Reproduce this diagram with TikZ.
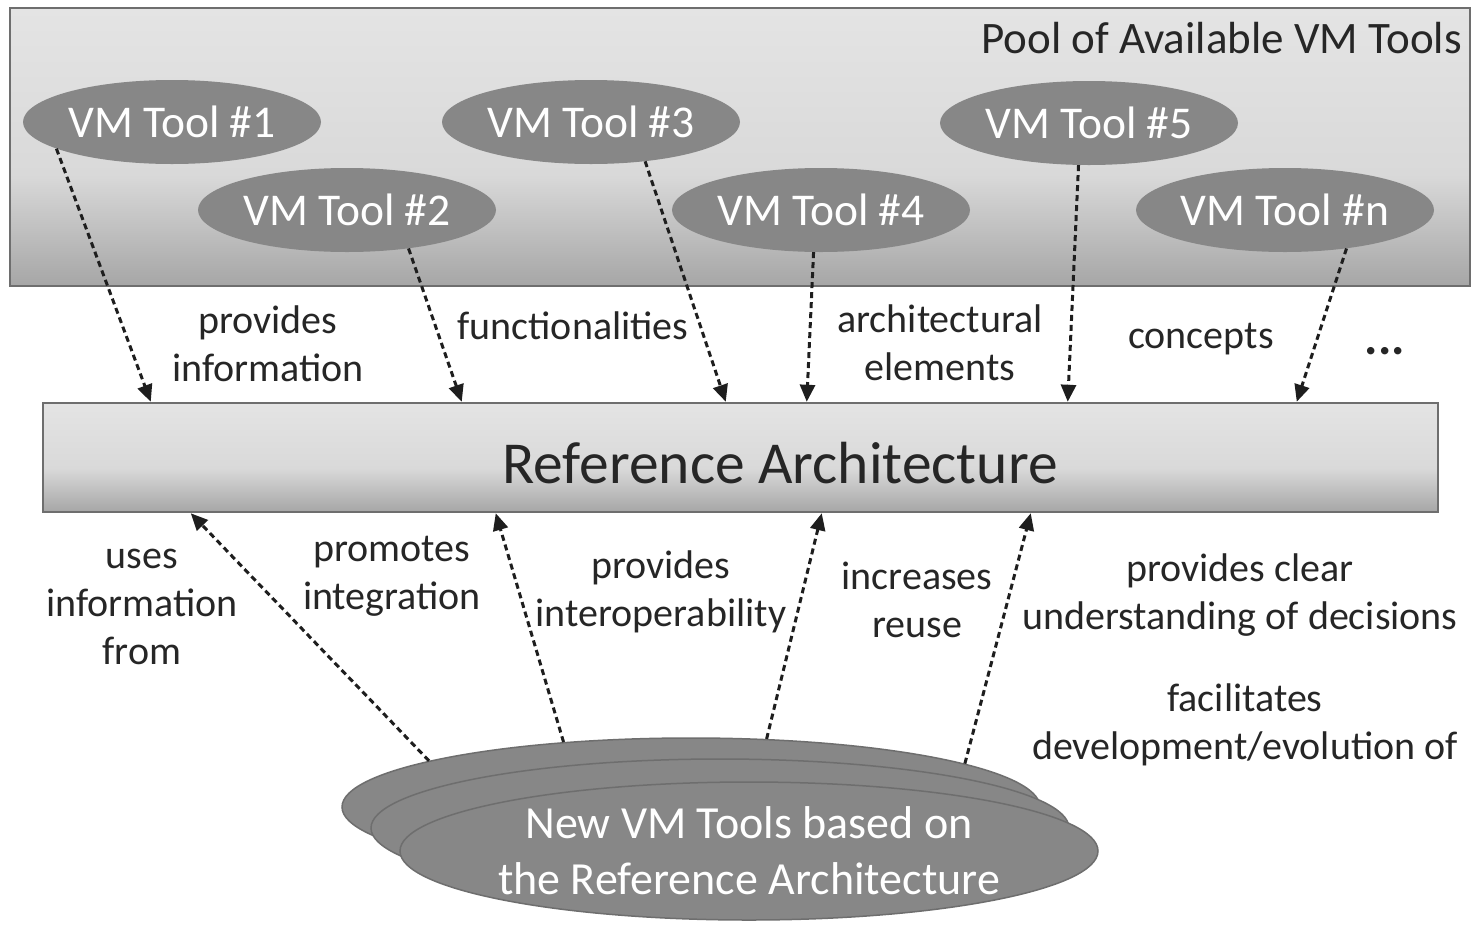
\documentclass[tikz,border=0pt]{standalone}
\usepackage{fontspec}
\setmainfont{Carlito}
\usetikzlibrary{arrows.meta,shapes.geometric,calc}
\definecolor{txtgray}{HTML}{262626}
\definecolor{arrgray}{HTML}{1E1E1E}
\definecolor{toolgray}{HTML}{878787}
\definecolor{edgegray}{HTML}{6E6E6E}
\definecolor{paneltop}{HTML}{E4E4E4}
\definecolor{panelmid}{HTML}{D9D9D9}
\definecolor{panelbot}{HTML}{A6A6A6}
\pgfdeclareverticalshading{panel}{100bp}{color(0bp)=(panelbot); color(25bp)=(panelbot);
  color(45bp)=(panelmid); color(75bp)=(paneltop); color(100bp)=(paneltop)}
\tikzset{
  panelbox/.style={draw=edgegray, line width=2.5pt, shading=panel, inner sep=0pt},
  toolell/.style={ellipse, fill=toolgray, text=white, inner sep=0pt, minimum width=298pt,
                  minimum height=84pt, font=\fontsize{45.5}{53}\selectfont},
  newtool/.style={ellipse, fill=toolgray, draw=edgegray, line width=1.5pt, minimum width=698pt,
                  minimum height=138pt, inner sep=0pt},
  lab/.style={text=txtgray, align=center, font=\fontsize{40}{48}\selectfont, inner sep=0pt},
  arr/.style={-{Triangle[length=17pt,width=15pt]}, dash pattern=on 6pt off 4pt,
              line width=3pt, draw=arrgray},
}

\begin{document}
\begin{tikzpicture}[x=1pt,y=-1pt]
  \useasboundingbox (0,0) rectangle (1472,927);
  % pool of tools
  \node[panelbox, minimum width=1460pt, minimum height=278pt] (pool) at (740,147) {};
  \node[text=txtgray, font=\fontsize{45}{53}\selectfont, anchor=base east, inner sep=0pt] (pooltitle) at (1462,53) {Pool of Available VM Tools};
  \node[toolell] (t1) at (172,122) {VM Tool \#1};
  \node[toolell] (t2) at (347,210) {VM Tool \#2};
  \node[toolell] (t3) at (591,122) {VM Tool \#3};
  \node[toolell] (t4) at (821,210) {VM Tool \#4};
  \node[toolell] (t5) at (1089,123) {VM Tool \#5};
  \node[toolell] (tn) at (1285,210) {VM Tool \#n};
  % reference architecture
  \node[panelbox, minimum width=1395pt, minimum height=109pt] (ra) at (740.5,457.5) {};
  \node[text=txtgray, font=\fontsize{59.5}{66}\selectfont, inner sep=0pt] (ratitle) at (780,463) {Reference Architecture};
  % stack of new tools
  \node[newtool] (nt3) at (691,807) {};
  \node[newtool] (nt2) at (720,828) {};
  \node[newtool] (nt1) at (749,851) {};
  \node[text=white, align=center, inner sep=0pt, font=\fontsize{46}{56}\selectfont] (ntlabel) at (nt1) {New VM Tools based on\\the Reference Architecture};
  % tools -> architecture
  \draw[arr] (t1.193) -- ([xshift=109pt]ra.north west);
  \draw[arr] (t2.328) -- ([xshift=420pt]ra.north west);
  \draw[arr] (t3.324) -- ([xshift=684pt]ra.north west);
  \draw[arr] (t4.260) -- ([xshift=765pt]ra.north west);
  \draw[arr] (t5.256) -- ([xshift=1026pt]ra.north west);
  \draw[arr] (tn.328) -- ([xshift=1255pt]ra.north west);
  \node[lab] (l1) at (268,344) {provides\\information};
  \node[lab] (l2) at (573,326) {functionalities};
  \node[lab] (l3) at (940,343) {architectural\\elements};
  \node[lab] (l4) at (1201,339) {concepts};
  \node[lab, font=\fontsize{50}{50}\selectfont\bfseries, anchor=base] (l5) at (1385,354) {...};
  % new tools -> architecture
  \draw[arr] (nt3.170) -- ([xshift=149pt]ra.south west);
  \draw[arr] (nt3.153) -- ([xshift=454pt]ra.south west);
  \draw[arr] (nt3.42) -- ([xshift=780pt]ra.south west);
  \draw[arr] (nt3.9) -- ([xshift=989pt]ra.south west);
  \node[lab] (b1) at (142,607) {uses\\information\\from};
  \node[lab] (b2) at (392,576) {promotes\\integration};
  \node[lab] (b3) at (661,592) {provides\\interoperability};
  \node[lab] (b4) at (917,600) {increases\\reuse};
  \node[lab] (b5) at (1240,595) {provides clear\\understanding of decisions};
  \node[lab] (b6) at (1245,725) {facilitates\\development/evolution of};
\end{tikzpicture}
\end{document}
